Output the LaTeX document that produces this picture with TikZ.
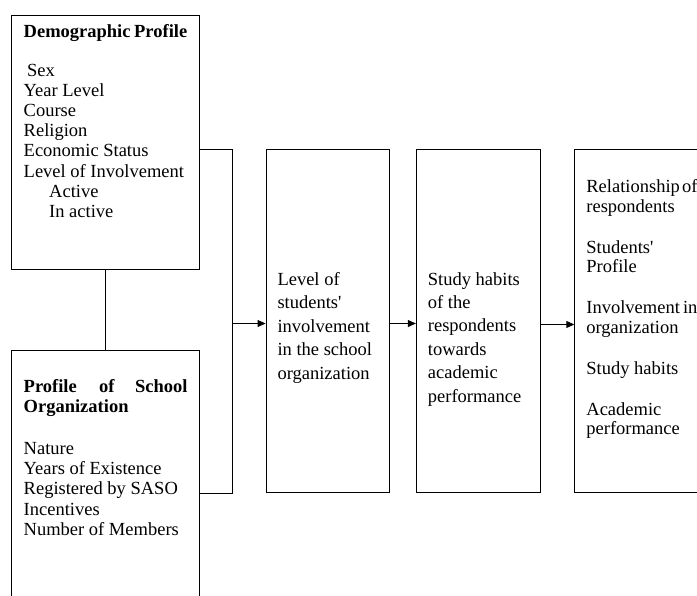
\documentclass[tikz,border=0pt]{standalone}
\usepackage{fontspec}
\setmainfont{Liberation Serif}
\usetikzlibrary{arrows.meta}
\begin{document}
\begin{tikzpicture}[x=1pt,y=-1pt,
  box/.style={draw, line width=0.9pt, inner sep=0pt, rectangle},
  txt/.style={anchor=base west, inner sep=0pt, font=\fontsize{18.5}{20}\selectfont},
  hdr/.style={txt, font=\fontsize{18.5}{20}\selectfont\bfseries},
  link/.style={line width=0.9pt},
  arr/.style={-{Triangle[length=8pt,width=7pt]}, line width=0.9pt}]
\useasboundingbox (0,0) rectangle (697,596);
\clip (0,0) rectangle (697,596);
% boxes
\node[box, minimum width=187.5pt, minimum height=254.5pt] (b1) at (105.25,142.25) {};
\node[box, minimum width=187.5pt, minimum height=270pt] (b2) at (105.25,485) {};
\node[box, minimum width=123.3pt, minimum height=343.2pt] (b3) at (327.65,321.1) {};
\node[box, minimum width=124pt, minimum height=343.2pt] (b4) at (478.3,321.1) {};
\node[box, minimum width=145.7pt, minimum height=343.2pt] (b5) at (647.15,321.1) {};
% connectors
\draw[link] (b1.south) -- (b2.north);
\coordinate (j) at (232.5,323.5);
\coordinate (j2) at (574.3,324.5);
\draw[link] (b1.east |- b3.north) -| (j) |- (b2.east |- b3.south);
\draw[arr] (j) -- (j -| b3.west);
\draw[arr] (b3.east |- j) -- (b4.west |- j);
\draw[arr] (b4.east |- j2) -- (j2);
% box 1 text
\node[hdr] (t1a) at (23.5,37.5) {Demographic\kern-1pt\ Profile};
\node[txt] (t1b) at (27,77) {Sex};
\node[txt] (t1c) at (23.5,97) {Year Level};
\node[txt] (t1d) at (23.5,117) {Course};
\node[txt] (t1e) at (23.5,137) {Religion};
\node[txt] (t1f) at (23.5,157) {Economic Status};
\node[txt] (t1g) at (23.5,178) {Level of Involvement};
\node[txt] (t1h) at (49,198) {Active};
\node[txt] (t1i) at (49,218) {In active};
% box 2 text
\node[hdr] (t2a) at (23.5,392.7) {Profile};
\node[hdr] (t2b) at (99,392.7) {of};
\node[hdr, anchor=base east] (t2c) at (187.7,392.7) {School};
\node[hdr] (t2d) at (23.5,412.7) {Organization};
\node[txt] (t2e) at (23.5,454) {Nature};
\node[txt] (t2f) at (23.5,474.3) {Years of Existence};
\node[txt] (t2g) at (23.5,494.7) {Registered by SASO};
\node[txt] (t2h) at (23.5,515) {Incentives};
\node[txt] (t2i) at (23.5,535.3) {Number of Members};
% box 3 text
\node[txt] (t3a) at (277.3,285.7) {Level of};
\node[txt] (t3b) at (277.3,309) {students\textquotesingle};
\node[txt] (t3c) at (277.3,332.7) {involvement};
\node[txt] (t3d) at (277.3,356) {in the school};
\node[txt] (t3e) at (277.3,379.3) {organization};
% box 4 text
\node[txt] (t4a) at (427.7,285.7) {Study habits};
\node[txt] (t4b) at (427.7,308.3) {of the};
\node[txt] (t4c) at (427.7,332) {respondents};
\node[txt] (t4d) at (427.7,355.6) {towards};
\node[txt] (t4e) at (427.7,379) {academic};
\node[txt] (t4f) at (427.7,402.7) {performance};
% box 5 text
\node[txt] (t5a) at (586.2,192.3) {Relationship\kern-2.5pt\ of};
\node[txt] (t5b) at (586.2,212.3) {respondents};
\node[txt] (t5c) at (586.2,253.3) {Students\textquotesingle};
\node[txt] (t5d) at (586.2,272.7) {Profile};
\node[txt] (t5e) at (586.2,313.3) {Involvement\kern-1.5pt\ in};
\node[txt] (t5f) at (586.2,333.3) {organization};
\node[txt] (t5g) at (586.2,374.3) {Study habits};
\node[txt] (t5h) at (586.2,415) {Academic};
\node[txt] (t5i) at (586.2,435) {performance};
\end{tikzpicture}
\end{document}
